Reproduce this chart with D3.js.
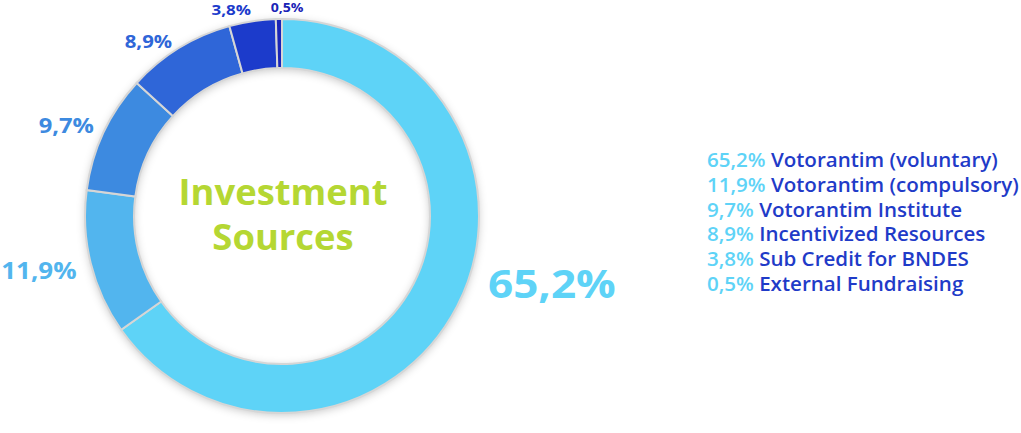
<!DOCTYPE html>
<html><head><meta charset="utf-8">
<script src="https://cdn.jsdelivr.net/npm/d3@7"></script>
<style>
html,body{margin:0;padding:0;background:#fff;}
svg{display:block;font-family:"Open Sans",sans-serif;}
</style></head>
<body><svg id="chart" width="1021" height="433"></svg>
<script>
const categories = ["Votorantim (voluntary)","Votorantim (compulsory)","Votorantim Institute","Incentivized Resources","Sub Credit for BNDES","External Fundraising"];
const values = [65.2, 11.9, 9.7, 8.9, 3.8, 0.5];
const valueLabels = ["65,2%","11,9%","9,7%","8,9%","3,8%","0,5%"];
const colors = ["#5ed3f7","#52b5ee","#3d8ae0","#2f66d8","#1c3bcb","#1a24b6"];
const title = ["Investment","Sources"];

// layout (positions / sizes only)
const cx = 282, cy = 216, rOuter = 197, rInner = 148;
const labelLayout = [ // polar placement of outside labels: angle(deg), radius, font size
  {a:103.9, r:278, fs:39},
  {a:257.5, r:249, fs:23},
  {a:292.8, r:234, fs:21},
  {a:322.6, r:220, fs:18},
  {a:346.2, r:213, fs:15},
  {a:1.4,   r:209, fs:12.5}
];
const stretch = 1.13;

const svg = d3.select("#chart");
const defs = svg.append("defs");
const f = defs.append("filter").attr("id","sh").attr("x","-20%").attr("y","-20%").attr("width","140%").attr("height","140%");
f.append("feDropShadow").attr("dx",0).attr("dy",2).attr("stdDeviation",4).attr("flood-color","#000").attr("flood-opacity",0.22);

const g = svg.append("g").attr("transform",`translate(${cx},${cy})`);
const pie = d3.pie().sort(null).value(d=>d)(values);
const arc = d3.arc().innerRadius(rInner).outerRadius(rOuter);

// shadow ring
g.append("path")
  .attr("d", d3.arc().innerRadius(rInner).outerRadius(rOuter).startAngle(0).endAngle(2*Math.PI)())
  .attr("fill","#fff").attr("filter","url(#sh)");

g.selectAll("path.slice").data(pie).join("path").attr("class","slice")
  .attr("d", arc).attr("fill",(d,i)=>colors[i])
  .attr("stroke","#d6d6d6").attr("stroke-width",2);

// outside labels
svg.append("g").selectAll("text").data(pie).join("text")
  .attr("transform",(d,i)=>{
    const L = labelLayout[i];
    const x = cx + L.r*Math.sin(L.a*Math.PI/180), y = cy - L.r*Math.cos(L.a*Math.PI/180);
    return `translate(${x},${y}) scale(${stretch},1)`;
  })
  .attr("text-anchor","middle").attr("dominant-baseline","central")
  .attr("font-weight",700).attr("font-size",(d,i)=>labelLayout[i].fs)
  .attr("fill",(d,i)=>colors[i])
  .text((d,i)=>valueLabels[i]);

// center title
svg.append("g").selectAll("text").data(title).join("text")
  .attr("transform",(d,i)=>`translate(${cx+1},${205 + i*45}) scale(1.04,1)`)
  .attr("text-anchor","middle").attr("font-weight",700).attr("font-size",35)
  .attr("fill","#b5d733").text(d=>d);

// legend
const leg = svg.append("g").attr("transform","translate(707,167) scale(1.065,1)");
const rows = leg.selectAll("text").data(categories).join("text")
  .attr("x",0).attr("y",(d,i)=>i*24.8).attr("font-size",19.3).attr("font-weight",600);
rows.append("tspan").attr("fill","#5ed3f7").text((d,i)=>valueLabels[i]+" ");
rows.append("tspan").attr("fill","#1f3bc8").text(d=>d);
</script></body></html>
